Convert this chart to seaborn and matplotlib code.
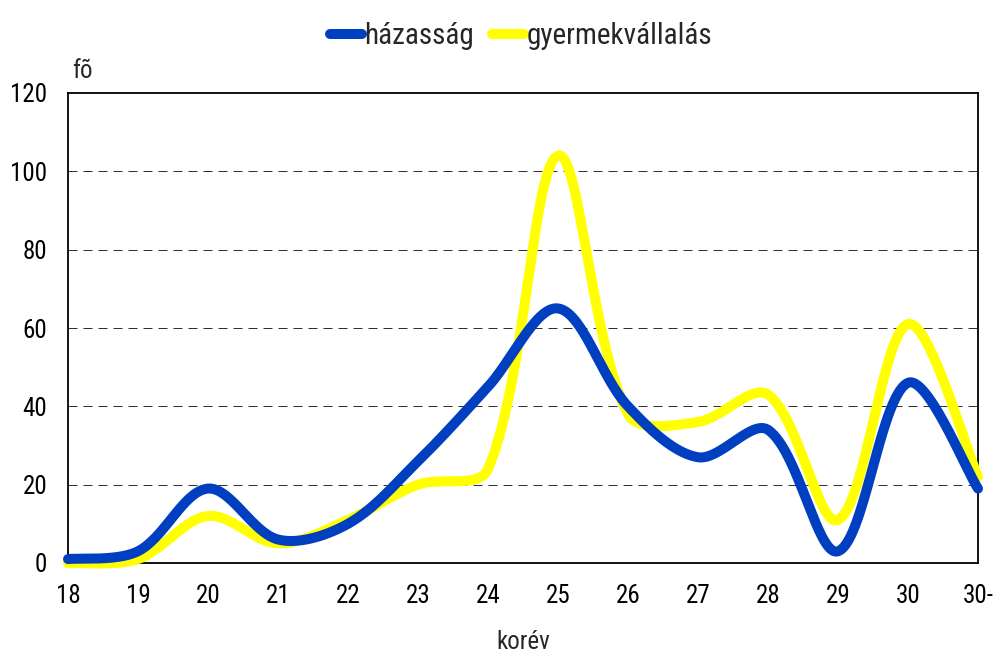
import numpy as np
import pandas as pd
import matplotlib
matplotlib.use("Agg")
import matplotlib.pyplot as plt
from matplotlib.lines import Line2D
import seaborn as sns

# Age groups and counts per group
korev = ["18", "19", "20", "21", "22", "23", "24", "25", "26", "27", "28", "29", "30", "30-"]
hazassag = [1, 3, 19, 6, 10, 26, 45, 65, 40, 27, 34, 3, 46, 19]
gyermekvallalas = [0, 1, 12, 5, 11, 20, 24, 104, 38, 36, 43, 11, 61, 22]
y_ticks = [0, 20, 40, 60, 80, 100, 120]

BLUE = "#0040C0"
YELLOW = "#FFFF00"

sns.set_style("white")
plt.rcParams["font.family"] = ["Roboto Condensed", "Liberation Sans", "DejaVu Sans"]

fig = plt.figure(figsize=(9.98, 6.55), dpi=100)
W, H = 998, 655
ax = fig.add_axes([68 / W, 1 - 563 / H, (978 - 68) / W, (563 - 93) / H])
ax.set_xlim(0, len(korev) - 1)
ax.set_ylim(0, 120)


def smooth_curve(xs, ys, sx, sy, n=60):
    """Bezier smoothing in screen space with chord-scaled control points."""
    P = np.column_stack([np.asarray(xs, float) * sx, np.asarray(ys, float) * sy])
    out = []
    m = len(P)
    for i in range(m - 1):
        p0 = P[max(i - 1, 0)]
        p1 = P[i]
        p2 = P[i + 1]
        p3 = P[min(i + 2, m - 1)]
        d01 = np.linalg.norm(p1 - p0)
        d12 = np.linalg.norm(p2 - p1)
        d23 = np.linalg.norm(p3 - p2)
        f1 = d12 / (d01 + d12) / 3 if d01 > 0 else 1 / 6
        f2 = d12 / (d12 + d23) / 3 if d23 > 0 else 1 / 6
        c1 = p1 + (p2 - p0) * f1
        c2 = p2 - (p3 - p1) * f2
        t = np.linspace(0, 1, n, endpoint=(i == m - 2))[:, None]
        seg = ((1 - t) ** 3) * p1 + 3 * ((1 - t) ** 2) * t * c1 + 3 * (1 - t) * t ** 2 * c2 + t ** 3 * p2
        out.append(seg)
    pts = np.vstack(out)
    return pts[:, 0] / sx, pts[:, 1] / sy


# pixel scale of one data unit on each axis
sx = (978 - 68) / (len(korev) - 1)
sy = (563 - 93) / 120.0

xpos = np.arange(len(korev))
frames = []
for name, vals in [("házasság", hazassag), ("gyermekvállalás", gyermekvallalas)]:
    cx, cy = smooth_curve(xpos, vals, sx, sy)
    frames.append(pd.DataFrame({"x": cx, "y": cy, "sorozat": name}))
df = pd.concat(frames, ignore_index=True)

# gridlines
for v in y_ticks[1:-1]:
    ax.axhline(v, color="#303030", lw=0.72, linestyle=(0, (9, 6)), zorder=1)

sns.lineplot(data=df[df.sorozat == "gyermekvállalás"], x="x", y="y", color=YELLOW, lw=7.2,
             sort=False, estimator=None, ax=ax, legend=False, zorder=3)
sns.lineplot(data=df[df.sorozat == "házasság"], x="x", y="y", color=BLUE, lw=7.2,
             sort=False, estimator=None, ax=ax, legend=False, zorder=4)
for ln in ax.get_lines()[-2:]:
    ln.set_solid_capstyle("round")
    ln.set_solid_joinstyle("round")
    ln.set_clip_on(False)

ax.set_xticks(xpos)
ax.set_xticklabels(korev)
ax.set_yticks(y_ticks)
ax.set_xlabel("")
ax.set_ylabel("")
ax.tick_params(axis="both", length=0, labelsize=18, colors="black")
ax.tick_params(axis="x", pad=15)
ax.tick_params(axis="y", pad=15)
for s in ax.spines.values():
    s.set_visible(True)
    s.set_color("black")
    s.set_linewidth(1.3)

fig.text(72 / W, 1 - 78 / H, "fõ", fontsize=18, ha="left", va="baseline")
fig.text(523 / W, 1 - 649 / H, "korév", fontsize=18, ha="center", va="baseline")

handles = [Line2D([], [], color=BLUE, lw=7.2, solid_capstyle="round"),
           Line2D([], [], color=YELLOW, lw=7.2, solid_capstyle="round")]
fig.legend(handles, ["házasság", "gyermekvállalás"], loc="upper center",
           bbox_to_anchor=(521 / W, 1.0 + 4 / H), ncol=2, frameon=False,
           fontsize=21, handlelength=1.1, handletextpad=0.1, columnspacing=0.6)

fig.savefig("out.png", dpi=100)
